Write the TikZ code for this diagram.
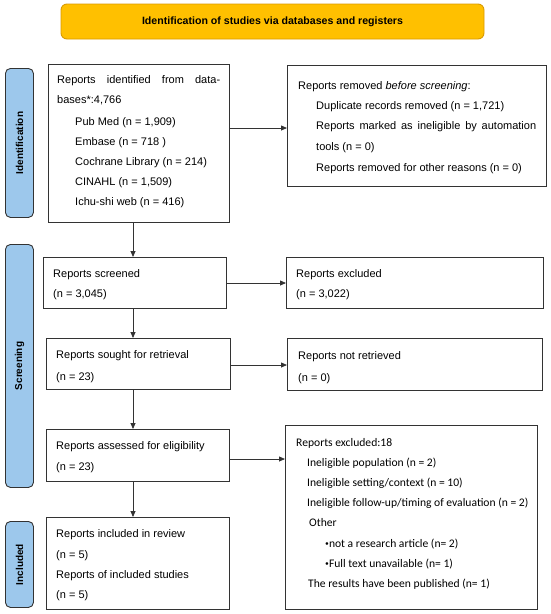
\documentclass[tikz,border=0pt]{standalone}
\usepackage{fontspec}
\setmainfont{Liberation Sans}
\newfontfamily\calfont{Carlito}
\usetikzlibrary{arrows.meta}
\definecolor{gold}{HTML}{FFC000}
\definecolor{goldedge}{HTML}{D99A00}
\definecolor{lblue}{HTML}{9DC8EC}
\definecolor{edge}{HTML}{333333}
\tikzset{
 box/.style={draw=edge, line width=1.1pt, anchor=north west, inner sep=0pt, fill=white},
 lbl/.style={draw=edge, line width=0.9pt, fill=lblue, rounded corners=5pt, anchor=north west, inner sep=0pt, minimum width=28pt},
 lbltxt/.style={rotate=90, inner sep=0pt, font=\bfseries\fontsize{10}{12}\selectfont},
 txt/.style={anchor=base west, inner sep=0pt, font=\fontsize{11}{13}\selectfont},
 ctxt/.style={anchor=base west, inner sep=0pt, font=\calfont\fontsize{11.6}{13}\selectfont},
 arr/.style={draw=edge, line width=0.8pt, -{Triangle[length=6pt,width=5pt]}}
}
\begin{document}
\begin{tikzpicture}[x=1pt,y=-1pt]
\useasboundingbox (0,0) rectangle (550,614);
% title
\node[draw=goldedge, line width=0.9pt, fill=gold, rounded corners=6pt, minimum width=423pt, minimum height=35pt, inner sep=0pt, font=\bfseries\fontsize{10.6}{12}\selectfont] (title) at (272.5,21.5) {Identification of studies via databases and registers};
% phase labels
\node[lbl, minimum height=149pt] (lid) at (5,68) {};
\node[lbltxt] (lidt) at (lid.center) {Identification};
\node[lbl, minimum height=243pt] (lsc) at (5,244) {};
\node[lbltxt] (lsct) at (lsc.center) {Screening};
\node[lbl, minimum height=86pt] (lin) at (5,521) {};
\node[lbltxt] (lint) at (lin.center) {Included};
% boxes
\node[box, minimum width=181pt, minimum height=158pt] (b1) at (48,64) {};
\node[box, minimum width=259pt, minimum height=121pt] (rem) at (287,65) {};
\node[box, minimum width=183pt, minimum height=51pt] (scr) at (43,257) {};
\node[box, minimum width=257pt, minimum height=51pt] (exc) at (286,257) {};
\node[box, minimum width=184pt, minimum height=51pt] (sou) at (46,338) {};
\node[box, minimum width=255pt, minimum height=52pt] (nre) at (287,338) {};
\node[box, minimum width=183pt, minimum height=52pt] (ass) at (46,429) {};
\node[box, minimum width=252pt, minimum height=184pt] (ex18) at (285,425) {};
\node[box, minimum width=183pt, minimum height=92pt] (inc) at (46,517) {};
% texts box 1
\node[txt] (t1a) at (57,83) {\makebox[163pt][s]{Reports identified from data-}};
\node[txt] (t1b) at (57,103) {bases*:4,766};
\node[txt] (t1c) at (75,125) {Pub Med (n = 1,909)};
\node[txt] (t1d) at (75,145) {Embase (n = 718 )};
\node[txt] (t1e) at (75,165) {Cochrane Library (n = 214)};
\node[txt] (t1f) at (75,185) {CINAHL (n = 1,509)};
\node[txt] (t1g) at (75,205) {Ichu-shi web (n = 416)};
% removed
\node[txt] (t2a) at (298,89) {Reports removed \textit{before screening}:};
\node[txt] (t2b) at (316,109) {Duplicate records removed (n = 1,721)};
\node[txt] (t2c) at (316,129) {\makebox[220pt][s]{Reports marked as ineligible by automation}};
\node[txt] (t2d) at (316,150) {tools (n = 0)};
\node[txt] (t2e) at (316,171) {Reports removed for other reasons (n = 0)};
% screened
\node[txt] (t3a) at (53,277) {Reports screened};
\node[txt] (t3b) at (53,297) {(n = 3,045)};
\node[txt] (t4a) at (296,277) {Reports excluded};
\node[txt] (t4b) at (296,297) {(n = 3,022)};
% sought
\node[txt] (t5a) at (56,358) {Reports sought for retrieval};
\node[txt] (t5b) at (56,380) {(n = 23)};
\node[txt] (t6a) at (298,359) {Reports not retrieved};
\node[txt] (t6b) at (298,381) {(n = 0)};
% assessed
\node[txt] (t7a) at (56,449) {Reports assessed for eligibility};
\node[txt] (t7b) at (56,470) {(n = 23)};
% excluded 18
\node[ctxt] (t8a) at (296,446) {Reports excluded:18};
\node[ctxt] (t8b) at (307,466) {Ineligible population (n = 2)};
\node[ctxt] (t8c) at (307,486) {Ineligible setting/context (n = 10)};
\node[ctxt] (t8d) at (307,506) {Ineligible follow-up/timing of evaluation (n = 2)};
\node[ctxt] (t8e) at (309,526) {Other};
\node[ctxt] (t8f) at (325,547) {{\fontsize{6}{8}\selectfont\raisebox{0.6ex}{$\bullet$}}not a research article (n= 2)};
\node[ctxt] (t8g) at (325,567) {{\fontsize{6}{8}\selectfont\raisebox{0.6ex}{$\bullet$}}Full text unavailable (n= 1)};
\node[ctxt] (t8h) at (308,587) {The results have been published (n= 1)};
% included
\node[txt] (t9a) at (56,537) {Reports included in review};
\node[txt] (t9b) at (56,558) {(n = 5)};
\node[txt] (t9c) at (56,578) {Reports of included studies};
\node[txt] (t9d) at (56,598) {(n = 5)};
% arrows
\coordinate (ax) at (133,0);
\draw[arr] (b1.south -| ax) -- (scr.north -| ax);
\draw[arr] (scr.south -| ax) -- (sou.north -| ax);
\draw[arr] (sou.south -| ax) -- (ass.north -| ax);
\draw[arr] (ass.south -| ax) -- (inc.north -| ax);
\coordinate (y1) at (0,128);
\coordinate (y2) at (0,283);
\coordinate (y3) at (0,365);
\coordinate (y4) at (0,459);
\draw[arr] (b1.east |- y1) -- (rem.west |- y1);
\draw[arr] (scr.east |- y2) -- (exc.west |- y2);
\draw[arr] (sou.east |- y3) -- (nre.west |- y3);
\draw[arr] (ass.east |- y4) -- (ex18.west |- y4);
\end{tikzpicture}
\end{document}
